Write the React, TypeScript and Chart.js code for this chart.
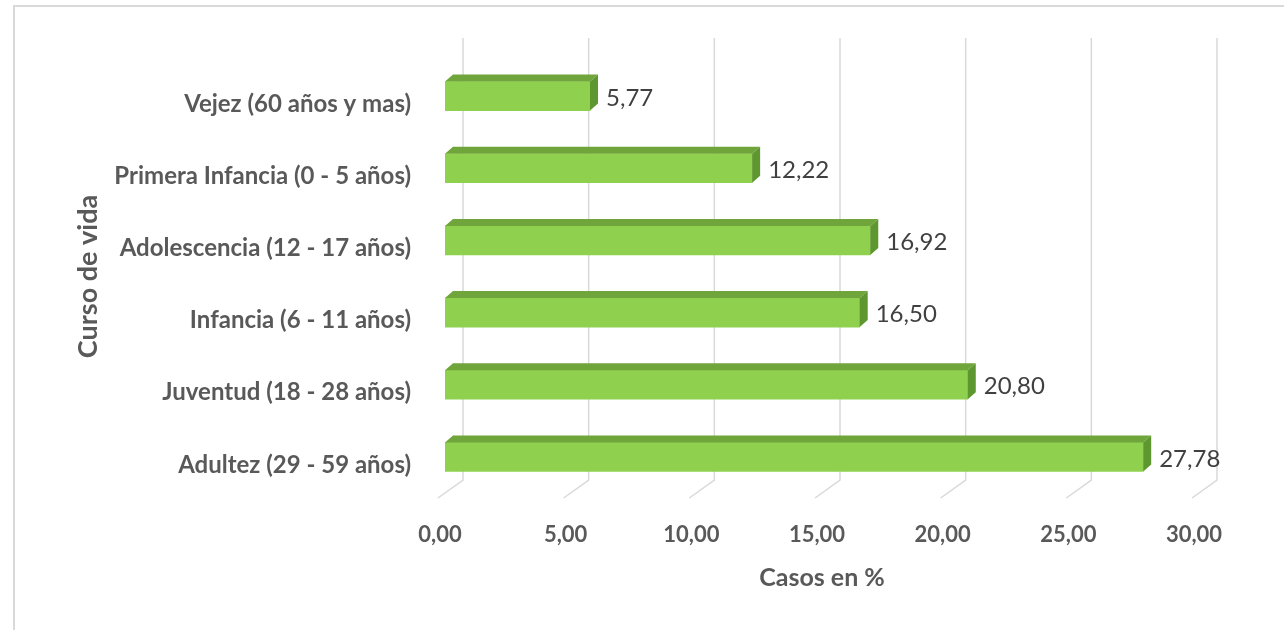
import React, { useEffect, useRef } from "react";
import { Chart, registerables } from "chart.js";

Chart.register(...registerables);

const categories = [
  "Vejez (60 años y mas)",
  "Primera Infancia (0 - 5 años)",
  "Adolescencia (12 - 17 años)",
  "Infancia (6 - 11 años)",
  "Juventud (18 - 28 años)",
  "Adultez (29 - 59 años)",
];
const casos = [5.77, 12.22, 16.92, 16.5, 20.8, 27.78];
const xMin = 0;
const xMax = 30;
const xStep = 5;
const xTitle = "Casos en %";
const yTitle = "Curso de vida";

const fmt = (v: number) => v.toFixed(2).replace(".", ",");

const FONT = "Lato, 'Open Sans', sans-serif";
const DX = 8;
const DY = 7;

const threeD = {
  id: "threeD",
  beforeDraw(chart: any) {
    const { ctx } = chart;
    ctx.save();
    ctx.strokeStyle = "#d9d9d9";
    ctx.lineWidth = 2;
    ctx.beginPath();
    ctx.moveTo(1284, 6);
    ctx.lineTo(14, 6);
    ctx.lineTo(14, 630);
    ctx.stroke();
    ctx.restore();
  },
  beforeDatasetsDraw(chart: any) {
    const { ctx, chartArea } = chart;
    const xs = chart.scales.x;
    ctx.save();
    ctx.strokeStyle = "#d9d9d9";
    ctx.lineWidth = 1.5;
    for (let v = xMin; v <= xMax; v += xStep) {
      const px = xs.getPixelForValue(v);
      const bx = px + 18;
      ctx.beginPath();
      ctx.moveTo(bx, chartArea.top - 22);
      ctx.lineTo(bx, chartArea.bottom - 13);
      ctx.lineTo(bx - 25, chartArea.bottom + 5);
      ctx.stroke();
    }
    ctx.restore();
  },
  afterDatasetsDraw(chart: any) {
    const { ctx } = chart;
    const meta = chart.getDatasetMeta(0);
    ctx.save();
    meta.data.forEach((bar: any, i: number) => {
      const { x, y, base, height } = bar.getProps(["x", "y", "base", "height"], true);
      const top = y - height / 2;
      const bottom = y + height / 2;
      ctx.fillStyle = "#6FA53A";
      ctx.beginPath();
      ctx.moveTo(base, top);
      ctx.lineTo(x, top);
      ctx.lineTo(x + DX, top - DY);
      ctx.lineTo(base + DX, top - DY);
      ctx.closePath();
      ctx.fill();
      ctx.fillStyle = "#5E962F";
      ctx.beginPath();
      ctx.moveTo(x, top);
      ctx.lineTo(x + DX, top - DY);
      ctx.lineTo(x + DX, bottom - DY);
      ctx.lineTo(x, bottom);
      ctx.closePath();
      ctx.fill();
      ctx.fillStyle = "#404040";
      ctx.font = `24px ${FONT}`;
      ctx.textAlign = "left";
      ctx.textBaseline = "middle";
      ctx.fillText(fmt(casos[i]), x + 16, y + 2);
    });
    ctx.restore();
  },
};

export default function App() {
  const ref = useRef<HTMLCanvasElement>(null);
  useEffect(() => {
    if (!ref.current) return;
    const chart = new Chart(ref.current, {
      type: "bar",
      data: {
        labels: categories,
        datasets: [
          {
            data: casos,
            backgroundColor: "#8FD14F",
            borderWidth: 0,
            barThickness: 29,
          },
        ],
      },
      options: {
        indexAxis: "y",
        animation: false,
        responsive: false,
        devicePixelRatio: 1,
        layout: { padding: { left: 68, right: 85, top: 60, bottom: 33 } },
        plugins: { legend: { display: false }, tooltip: { enabled: false } },
        scales: {
          x: {
            min: xMin,
            max: xMax,
            grid: { display: false, drawTicks: false },
            border: { display: false },
            afterFit: (s: any) => {
              s.height = 104;
            },
            ticks: {
              stepSize: xStep,
              padding: 29,
              labelOffset: -5,
              color: "#595959",
              font: { family: FONT, size: 22, weight: "bold" },
              callback: (v: any) => fmt(Number(v)),
            },
            title: {
              display: true,
              text: xTitle,
              color: "#595959",
              font: { family: FONT, size: 25, weight: "bold" },
              padding: 4,
            },
          },
          y: {
            grid: { display: false, drawTicks: false },
            border: { display: false },
            afterFit: (s: any) => {
              s.width = 377;
            },
            ticks: {
              padding: 34,
              labelOffset: 8,
              color: "#595959",
              font: { family: FONT, size: 24, weight: "bold" },
            },
            title: {
              display: true,
              text: yTitle,
              color: "#595959",
              font: { family: FONT, size: 27, weight: "bold" },
              padding: 4,
            },
          },
        },
      },
      plugins: [threeD],
    });
    return () => chart.destroy();
  }, []);
  return (
    <div style={{ position: "absolute", left: 0, top: 0, width: 1284, height: 630, background: "#fff" }}>
      <canvas ref={ref} width={1284} height={630} style={{ display: "block" }} />
    </div>
  );
}
